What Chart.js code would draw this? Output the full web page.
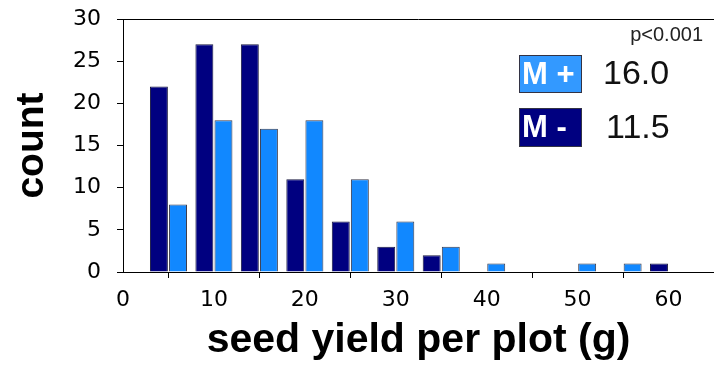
<!DOCTYPE html>
<html>
<head>
<meta charset="utf-8">
<script src="https://cdn.jsdelivr.net/npm/chart.js@4/dist/chart.umd.min.js"></script>
<style>
  html, body { margin: 0; padding: 0; background: #fff; }
  #wrap { width: 714px; height: 365px; }
</style>
</head>
<body>
<div id="wrap"><canvas id="c" width="714" height="365"></canvas></div>
<script>
// Bin centres of the seed-yield histogram (g per plot)
const binCentres = [5, 10, 15, 20, 25, 30, 35, 40, 45, 50, 55, 60];
// Plot counts per bin, without (M -) and with (M +) the treatment
const countsMinus = [22, 27, 27, 11, 6, 3, 2, 0, 0, 0, 0, 1];
const countsPlus  = [8, 18, 17, 18, 11, 6, 3, 1, 0, 1, 1, 0];
// Group means shown in the key, and the test result
const groupLabels = ['M +', 'M -'];
const groupMeans = ['16.0', '11.5'];
const pValueText = 'p<0.001';

const NAVY = '#000080';
const BLUE = '#1188ff';
const KEY_BLUE = '#3399ff';

const toPoints = (vals) => binCentres.map((x, i) => ({ x: x, y: vals[i] }));

// Frame line along the top of the plot and the mean key in the corner
const keyPlugin = {
  id: 'meanKey',
  afterDraw(chart) {
    const ctx = chart.ctx;
    const area = chart.chartArea;
    ctx.save();
    ctx.strokeStyle = '#000';
    ctx.lineWidth = 1;
    ctx.beginPath();
    ctx.moveTo(area.left, Math.round(area.top) + 0.5);
    ctx.lineTo(chart.width, Math.round(area.top) + 0.5);
    ctx.stroke();

    ctx.fillStyle = '#222';
    ctx.font = '20px "Liberation Sans", Arial, sans-serif';
    ctx.textAlign = 'right';
    ctx.textBaseline = 'middle';
    ctx.fillText(pValueText, 703, 35);

    const boxes = [
      { y: 55, h: 38, fill: KEY_BLUE },
      { y: 108, h: 39, fill: NAVY }
    ];
    boxes.forEach((b, i) => {
      ctx.fillStyle = b.fill;
      ctx.fillRect(519, b.y, 63, b.h);
      ctx.strokeStyle = '#334';
      ctx.strokeRect(519.5, b.y + 0.5, 62, b.h - 1);
      ctx.fillStyle = '#fff';
      ctx.font = 'bold 31px "Liberation Sans", Arial, sans-serif';
      ctx.textAlign = 'left';
      ctx.textBaseline = 'middle';
      ctx.fillText(groupLabels[i], 522, b.y + b.h / 2 + 1);
      ctx.fillStyle = '#111';
      ctx.font = '34px "Liberation Sans", Arial, sans-serif';
      ctx.fillText(groupMeans[i], i === 0 ? 603 : 606, b.y + b.h / 2 + 1);
    });
    ctx.restore();
  }
};

new Chart(document.getElementById('c'), {
  type: 'bar',
  data: {
    datasets: [
      {
        label: groupLabels[1],
        data: toPoints(countsMinus),
        backgroundColor: NAVY,
        borderColor: '#1a1a40',
        borderWidth: 1,
        borderSkipped: 'start'
      },
      {
        label: groupLabels[0],
        data: toPoints(countsPlus),
        backgroundColor: BLUE,
        borderColor: '#3a3a4a',
        borderWidth: 1,
        borderSkipped: 'start'
      }
    ]
  },
  options: {
    responsive: false,
    animation: false,
    categoryPercentage: 0.84,
    barPercentage: 0.94,
    layout: { padding: { top: 19, right: 0, left: 0, bottom: 0 } },
    plugins: {
      legend: { display: false },
      tooltip: { enabled: false }
    },
    scales: {
      x: {
        type: 'linear',
        min: 0,
        max: 65,
        offset: false,
        afterFit(scale) { scale.height = 93; },
        ticks: {
          stepSize: 10,
          includeBounds: false,
          padding: 9,
          color: '#000',
          font: { family: '"DejaVu Sans", Verdana, sans-serif', size: 22 }
        },
        grid: { drawOnChartArea: false, drawTicks: true, tickLength: 6, color: '#000' },
        border: { display: true, color: '#000', width: 1 },
        title: {
          display: true,
          text: 'seed yield per plot (g)',
          color: '#000',
          padding: { top: 0, bottom: 0 },
          font: { family: '"Liberation Sans", Arial, sans-serif', size: 41, weight: 'bold', lineHeight: 1.2 }
        }
      },
      y: {
        min: 0,
        max: 30,
        afterFit(scale) {
          scale.width = 123;
          scale.paddingTop = 0;
          scale.paddingBottom = 0;
        },
        ticks: {
          stepSize: 5,
          padding: 16,
          color: '#000',
          font: { family: '"DejaVu Sans", Verdana, sans-serif', size: 22 }
        },
        grid: { drawOnChartArea: false, drawTicks: true, tickLength: 6, color: '#000' },
        border: { display: true, color: '#000', width: 1 },
        title: {
          display: true,
          text: 'count',
          color: '#000',
          padding: { top: 9, bottom: 0 },
          font: { family: '"Liberation Sans", Arial, sans-serif', size: 39, weight: 'bold', lineHeight: 1.2 }
        }
      }
    }
  },
  plugins: [keyPlugin]
});
</script>
</body>
</html>
